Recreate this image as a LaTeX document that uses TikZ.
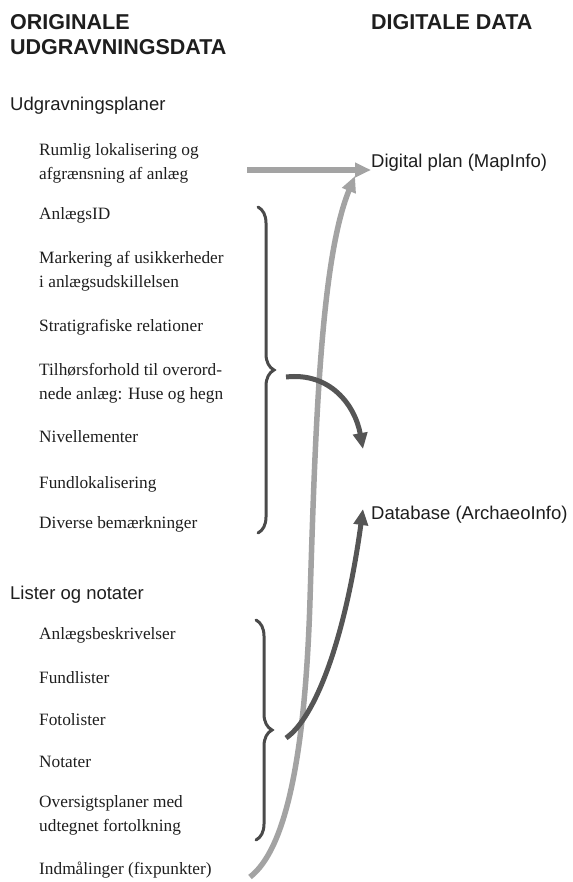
\documentclass[tikz,border=0pt]{standalone}
\usepackage{fontspec}
\setmainfont{Liberation Serif}
\setsansfont{Liberation Sans}
\usetikzlibrary{arrows.meta,positioning,decorations.pathreplacing}
\definecolor{inkgray}{HTML}{1E1E1E}
\definecolor{lightarrow}{HTML}{A3A3A3}
\definecolor{darkarrow}{HTML}{555555}
\definecolor{bracegray}{HTML}{4A4A4A}

\begin{document}
\begin{tikzpicture}[x=1pt,y=1pt]

	\tikzstyle{heading} = [anchor=west, inner sep=0pt, align=left, text=inkgray,
		font=\sffamily\bfseries\fontsize{21.5}{25}\selectfont]
	\tikzstyle{group} = [anchor=west, inner sep=0pt, text=inkgray,
		font=\sffamily\fontsize{18.5}{22}\selectfont]
	\tikzstyle{item} = [anchor=west, inner sep=0pt, align=left, text=inkgray,
		font=\fontsize{17.3}{24}\selectfont]
	\tikzstyle{lightline} = [draw=lightarrow, line width=5.5pt,
		-{Triangle[length=16pt,width=14pt]}]
	\tikzstyle{darkline} = [draw=darkarrow, line width=5pt,
		-{Triangle[length=16pt,width=14pt]}]
	\tikzstyle{bracket} = [draw=bracegray, line width=3pt, line cap=round,
		decorate, decoration={brace,amplitude=16pt}]

	\useasboundingbox (0,0) rectangle (572,-882);

	% headings
	\node[heading] (original) at (10,-34.5) {ORIGINALE\\UDGRAVNINGSDATA};
	\node[heading] (digitale) at (371,-22) {DIGITALE DATA};

	% udgravningsplaner
	\node[group] (planer) at (10,-106) {Udgravningsplaner};
	\node[item] (rumlig) at (39,-163) {Rumlig lokalisering og\\afgrænsning af anlæg};
	\node[item] (anlaegsid) at (39,-215) {AnlægsID};
	\node[item] (markering) at (39,-271) {Markering af usikkerheder\\i anlægsudskillelsen};
	\node[item] (strati) at (39,-327) {Stratigrafiske relationer};
	\node[item] (tilhoer) at (39,-383) {Tilhørsforhold til overord-\\nede anlæg: Huse og hegn};
	\node[item] (nivel) at (39,-437) {Nivellementer};
	\node[item] (fundlok) at (39,-484) {Fundlokalisering};
	\node[item] (diverse) at (39,-524) {Diverse bemærkninger};

	% lister og notater
	\node[group] (lister) at (10,-595) {Lister og notater};
	\node[item] (beskriv) at (39,-635) {Anlægsbeskrivelser};
	\node[item] (fundlist) at (39,-678) {Fundlister};
	\node[item] (fotolist) at (39,-720) {Fotolister};
	\node[item] (notater) at (39,-762) {Notater};
	\node[item] (oversigt) at (39,-815) {Oversigtsplaner med\\udtegnet fortolkning};
	\node[item] (indmaal) at (39,-870) {Indmålinger (fixpunkter)};

	% digitale data
	\node[group] (dplan) at (371,-163) {Digital plan (MapInfo)};
	\node[group] (dbase) at (371,-515) {Database (ArchaeoInfo)};

	% braces
	\draw[bracket] (258,-207) -- (258,-533);
	\draw[bracket] (256,-620) -- (256,-840);

	\coordinate (planout) at (247,-170);
	\coordinate (brace1) at (286,-377);
	\coordinate (brace2) at (286,-738);
	\coordinate (fixout) at (250,-877);
	\coordinate (dbin1) at (363,-449);
	\coordinate (dbin2) at (363,-509);
	\coordinate (dplanin) at (355,-176);

	% arrows
	\draw[lightline] (planout) -- (planout -| dplan.west);
	\draw[lightline] (fixout) .. controls (285,-850) and (305,-760) .. (310,-600)
		.. controls (315,-440) and (320,-260) .. (dplanin);
	\draw[darkline] (brace1) .. controls (330,-372) and (355,-405) .. (dbin1);
	\draw[darkline] (brace2) .. controls (315,-718) and (345,-640) .. (dbin2);

\end{tikzpicture}
\end{document}
